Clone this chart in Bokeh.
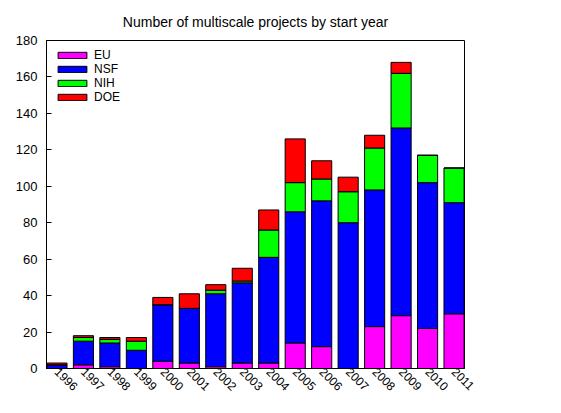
from math import pi
from bokeh.plotting import figure
from bokeh.models import (Range1d, FixedTicker, Legend, LegendItem, ColumnDataSource)
from bokeh.embed import file_html
from bokeh.resources import INLINE

# ---- data ----
years = [1996, 1997, 1998, 1999, 2000, 2001, 2002, 2003,
         2004, 2005, 2006, 2007, 2008, 2009, 2010, 2011]
series = ["EU", "NSF", "NIH", "DOE"]
eu  = [0, 2, 1, 0, 4, 3, 1, 3, 3, 14, 12, 0, 23, 29, 22, 30]
nsf = [2, 13, 13, 10, 31, 30, 40, 44, 58, 72, 80, 80, 75, 103, 80, 61]
nih = [0, 2, 2, 5, 0, 0, 2, 1, 15, 16, 12, 17, 23, 30, 15, 19]
doe = [1, 1, 1, 2, 4, 8, 3, 7, 11, 24, 10, 8, 7, 6, 0, 0]
y_ticks = [0, 20, 40, 60, 80, 100, 120, 140, 160, 180]
title_text = "Number of multiscale projects by start year"

colors = ["#ff00ff", "#0000ff", "#00ff00", "#ff0000"]
FONT = "Liberation Sans"

src = ColumnDataSource(dict(year=years, EU=eu, NSF=nsf, NIH=nih, DOE=doe))

p = figure(width=545, height=397, output_backend="svg", toolbar_location=None,
           x_range=Range1d(1995.605, 2011.395), y_range=Range1d(0, 180),
           min_border_left=46, min_border_right=81, min_border_top=40,
           min_border_bottom=28)

renderers = p.vbar_stack(series, x="year", width=0.76, source=src,
                         fill_color=colors, line_color="black", line_width=1)

# title
p.title.text = title_text
p.title.align = "center"
p.title.standoff = 21
p.title.text_font = FONT
p.title.text_font_size = "14px"
p.title.text_font_style = "normal"
p.title.text_color = "black"

# frame & grid
p.outline_line_color = "black"
p.outline_line_width = 1
p.outline_line_alpha = 1
p.xgrid.visible = False
p.ygrid.visible = False

# x axis
p.xaxis.ticker = FixedTicker(ticks=years)
p.xaxis.major_label_orientation = -pi / 4
p.xaxis.major_tick_in = 0
p.xaxis.major_tick_out = 0
p.xaxis.minor_tick_in = 0
p.xaxis.minor_tick_out = 0
p.xaxis.major_label_standoff = 1
p.xaxis.major_label_text_font = FONT
p.xaxis.major_label_text_font_size = "12px"
p.xaxis.major_label_text_color = "black"
p.xaxis.axis_line_color = "black"

# y axis
p.yaxis.ticker = FixedTicker(ticks=y_ticks)
p.yaxis.major_tick_in = 5
p.yaxis.major_tick_out = 0
p.yaxis.minor_tick_in = 0
p.yaxis.minor_tick_out = 0
p.yaxis.major_label_standoff = 9
p.yaxis.major_label_text_font = FONT
p.yaxis.major_label_text_font_size = "13px"
p.yaxis.major_label_text_color = "black"
p.yaxis.axis_line_color = "black"

# legend (inside the frame, top-left, where the bars are short)
legend = Legend(items=[LegendItem(label=name, renderers=[r])
                       for name, r in zip(series, renderers)],
                location="top_left", glyph_width=36, glyph_height=8,
                label_height=13, label_standoff=4,
                label_text_font=FONT, label_text_font_size="12px",
                label_text_color="black",
                padding=4, spacing=0, margin=8)
legend.border_line_color = None
p.add_layout(legend)

open("out.html", "w").write(file_html(p, INLINE))
